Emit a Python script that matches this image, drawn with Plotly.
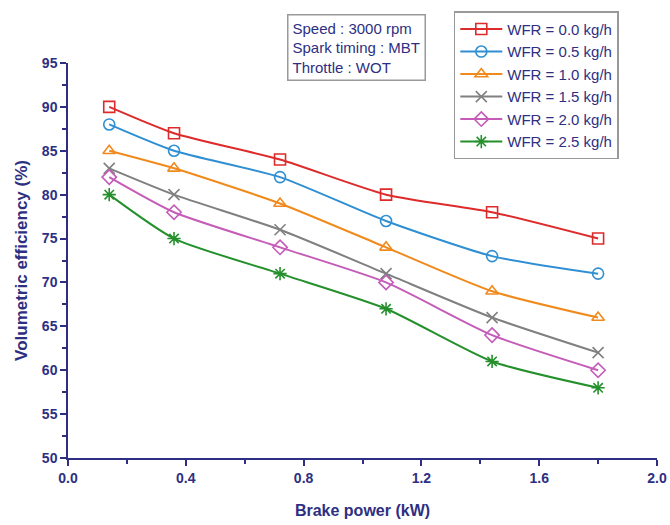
import plotly.graph_objects as go

brake_power = [0.14, 0.36, 0.72, 1.08, 1.44, 1.80]
series_names = ["WFR = 0.0 kg/h", "WFR = 0.5 kg/h", "WFR = 1.0 kg/h",
                "WFR = 1.5 kg/h", "WFR = 2.0 kg/h", "WFR = 2.5 kg/h"]
wfr_00 = [90, 87, 84, 80, 78, 75]
wfr_05 = [88, 85, 82, 77, 73, 71]
wfr_10 = [85, 83, 79, 74, 69, 66]
wfr_15 = [83, 80, 76, 71, 66, 62]
wfr_20 = [82, 78, 74, 70, 64, 60]
wfr_25 = [80, 75, 71, 67, 61, 58]
values = [wfr_00, wfr_05, wfr_10, wfr_15, wfr_20, wfr_25]

colors = ["#dd2b2b", "#2f8fd2", "#f08a1c", "#808080", "#c45cb8", "#24902c"]
symbols = ["square-open", "circle-open", "triangle-up-open", "x-thin-open",
           "diamond-open", "asterisk-open"]

navy = "#2e2f82"
font_family = "Liberation Sans, Arial, sans-serif"

fig = go.Figure()
for name, ys, c, s in zip(series_names, values, colors, symbols):
    fig.add_trace(go.Scatter(
        x=brake_power, y=ys, name=name, mode="lines+markers",
        line=dict(color=c, width=2, shape="spline", smoothing=0.6),
        marker=dict(symbol=s, size=11, color=c, line=dict(color=c, width=1.6)),
    ))

axis_common = dict(
    showline=True, linecolor=navy, linewidth=1.5, mirror=False,
    ticks="outside", tickcolor=navy, tickwidth=1.5, ticklen=6,
    showgrid=False, zeroline=False, automargin=False,
    tickfont=dict(family=font_family, size=14, color=navy, weight="bold"),
    minor=dict(ticks="outside", ticklen=4, tickcolor=navy, tickwidth=1.5),
)

fig.update_layout(
    width=670, height=525,
    margin=dict(l=68, r=13, t=62, b=67),
    paper_bgcolor="white", plot_bgcolor="white",
    font=dict(family=font_family, color=navy),
    xaxis=dict(range=[0, 2.0], tick0=0, dtick=0.4, tickformat=".1f",
               minor_dtick=0.2,
               title=dict(text="<b>Brake power (kW)</b>", standoff=20,
                          font=dict(family=font_family, size=16, color=navy)),
               **axis_common),
    yaxis=dict(range=[50, 95], tick0=50, dtick=5, minor_dtick=2.5,
               title=dict(text="<b>Volumetric efficiency (%)</b>", standoff=10,
                          font=dict(family=font_family, size=17, color=navy)),
               **axis_common),
    legend=dict(x=0.655, y=1.128, xanchor="left", yanchor="top",
                bordercolor="#999999", borderwidth=1.5, bgcolor="white",
                font=dict(family=font_family, size=15, color=navy),
                tracegroupgap=0, itemwidth=42),
    showlegend=True,
)

fig.add_annotation(
    xref="paper", yref="paper", x=0.372, y=1.124, xanchor="left", yanchor="top",
    text="Speed : 3000 rpm<br>Spark timing : MBT<br>Throttle : WOT",
    align="left", showarrow=False,
    font=dict(family=font_family, size=15, color=navy),
    bordercolor="#999999", borderwidth=1.5, borderpad=4, bgcolor="white",
)

fig.write_html("out.html")
